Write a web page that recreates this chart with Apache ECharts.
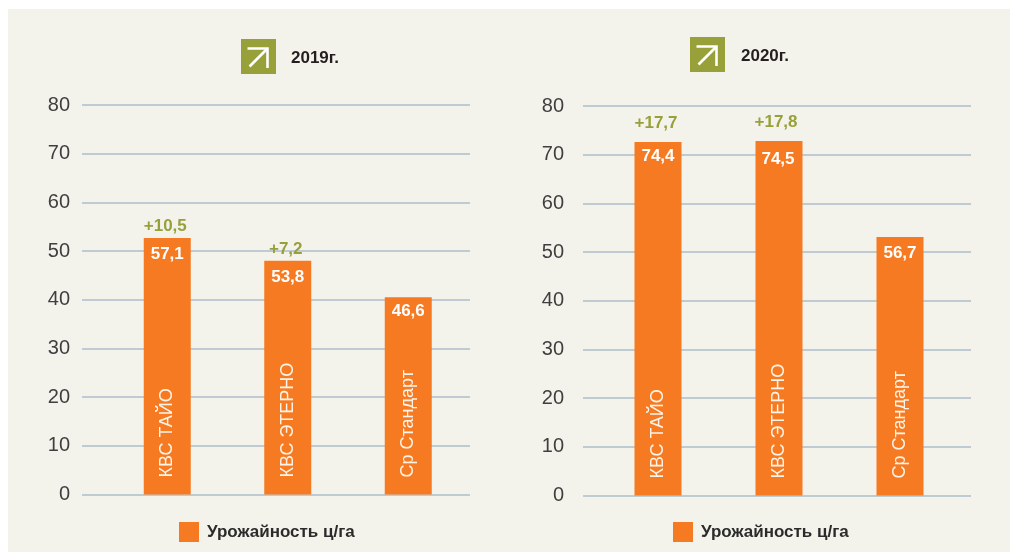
<!DOCTYPE html>
<html><head><meta charset="utf-8">
<style>
html,body{margin:0;padding:0;background:#fff;width:1010px;height:552px;overflow:hidden}
#panel{position:absolute;left:8px;top:9px;width:1002px;height:543px;background:#f4f3eb}
#chart{position:absolute;left:0;top:0;width:1010px;height:552px}
</style>
<script src="https://cdn.jsdelivr.net/npm/echarts@6/dist/echarts.min.js"></script>
</head><body><div id="panel"></div><div id="chart"></div>
<script>
// Tick labels and categories
const categories = ['КВС ТАЙО', 'КВС ЭТЕРНО', 'Ср Стандарт'];
const seriesName = 'Урожайность ц/га';
const titles = ['2019г.', '2020г.'];
// Bar heights as drawn, read against the printed axis (the source art does not draw bars to the printed numbers)
const heights2019 = [52.7, 48.0, 40.5];
const heights2020 = [72.6, 72.8, 53.1];
// Numbers printed on the bars
const printed2019 = ['57,1', '53,8', '46,6'];
const printed2020 = ['74,4', '74,5', '56,7'];
// Gains printed above the bars
const gains2019 = ['+10,5', '+7,2', ''];
const gains2020 = ['+17,7', '+17,8', ''];

const FONT = '"Liberation Sans", Arial, sans-serif';
const ORANGE = '#f67a21', OLIVE = '#98a03a';

const panels = [
  {heights: heights2019, printed: printed2019, gains: gains2019,
   gridL: 82, gridW: 388, top: 105, h: 389.5, barL: 107, barW: 361.5, ylMargin: 12,
   valY: [0, 0, -3], gainDist: 3, gainX: [-2, -2, 0], valX: [0, 0, 0],
   legL: 174, legT: 517},
  {heights: heights2020, printed: printed2020, gains: gains2020,
   gridL: 583, gridW: 388, top: 106, h: 389.5, barL: 597.5, barW: 363, ylMargin: 19,
   valY: [-2, 2, 0], gainDist: 10, gainX: [-2, -3, 0], valX: [0, -1, 0],
   legL: 668, legT: 517}
];

const grid = [], xAxis = [], yAxis = [], series = [], legend = [];
panels.forEach((p, i) => {
  const g0 = grid.length;
  grid.push({left: p.gridL, width: p.gridW, top: p.top, height: p.h});
  grid.push({left: p.barL, width: p.barW, top: p.top, height: p.h});
  // axis carrying the gridlines and value ticks
  xAxis.push({gridIndex: g0, type: 'category', data: categories, show: false});
  yAxis.push({gridIndex: g0, type: 'value', min: 0, max: 80, interval: 10,
    axisLine: {show: false}, axisTick: {show: false},
    axisLabel: {fontFamily: FONT, fontSize: 20, color: '#3f3f3f', margin: p.ylMargin},
    splitLine: {lineStyle: {color: '#bfcbd3', width: 2}}});
  // axis carrying the bars and their names
  xAxis.push({gridIndex: g0 + 1, type: 'category', data: categories, z: 6,
    axisLine: {show: false}, axisTick: {show: false},
    axisLabel: {inside: true, rotate: 90, margin: 17, fontFamily: FONT, fontSize: 18,
      color: '#fdf3e6', interval: 0}});
  yAxis.push({gridIndex: g0 + 1, type: 'value', min: 0, max: 80, show: false, splitLine: {show: false}});
  series.push({
    name: seriesName, type: 'bar', xAxisIndex: g0 + 1, yAxisIndex: g0 + 1,
    barWidth: 47, barGap: '-100%', itemStyle: {color: ORANGE},
    data: p.heights.map((v, k) => ({value: v, label: {
      show: true, position: 'insideTop', distance: 8, offset: [p.valX[k], p.valY[k]],
      formatter: p.printed[k], fontFamily: FONT, fontSize: 17, fontWeight: 'bold', color: '#fff'}}))
  });
  series.push({
    name: 'gain' + i, type: 'bar', xAxisIndex: g0 + 1, yAxisIndex: g0 + 1,
    barWidth: 47, barGap: '-100%', itemStyle: {color: 'transparent'}, silent: true,
    data: p.heights.map((v, k) => ({value: v, label: {
      show: !!p.gains[k], position: 'top', distance: p.gainDist, offset: [p.gainX[k], 0],
      formatter: p.gains[k], fontFamily: FONT, fontSize: 17, fontWeight: 'bold', color: OLIVE}}))
  });
  legend.push({
    left: p.legL, top: p.legT, itemWidth: 20, itemHeight: 20, icon: 'rect',
    selectedMode: false, data: [seriesName],
    textStyle: {fontFamily: FONT, fontSize: 17, fontWeight: 'bold', color: '#2b2b2b', padding: [0, 0, 0, 3]}
  });
});

function icon(x, y) {
  return {type: 'group', x, y, children: [
    {type: 'rect', shape: {x: 0, y: 0, width: 35, height: 35}, style: {fill: OLIVE}},
    {type: 'polyline', shape: {points: [[6.5, 9.5], [26.5, 9.5], [26.5, 29]]},
     style: {fill: null, stroke: '#fff', lineWidth: 2.6}},
    {type: 'line', shape: {x1: 8.5, y1: 27.5, x2: 25.5, y2: 10.5},
     style: {stroke: '#fff', lineWidth: 2.6}}
  ]};
}

const chart = echarts.init(document.getElementById('chart'), null, {renderer: 'canvas'});
chart.setOption({
  animation: false,
  backgroundColor: 'transparent',
  tooltip: {show: false},
  title: [
    {text: titles[0], left: 286, top: 45, textStyle: {fontFamily: FONT, fontSize: 17, fontWeight: 'bold', color: '#231f20'}},
    {text: titles[1], left: 736, top: 43, textStyle: {fontFamily: FONT, fontSize: 17, fontWeight: 'bold', color: '#231f20'}}
  ],
  grid, xAxis, yAxis, series, legend,
  graphic: [icon(241, 39), icon(690, 37)]
});
</script></body></html>
